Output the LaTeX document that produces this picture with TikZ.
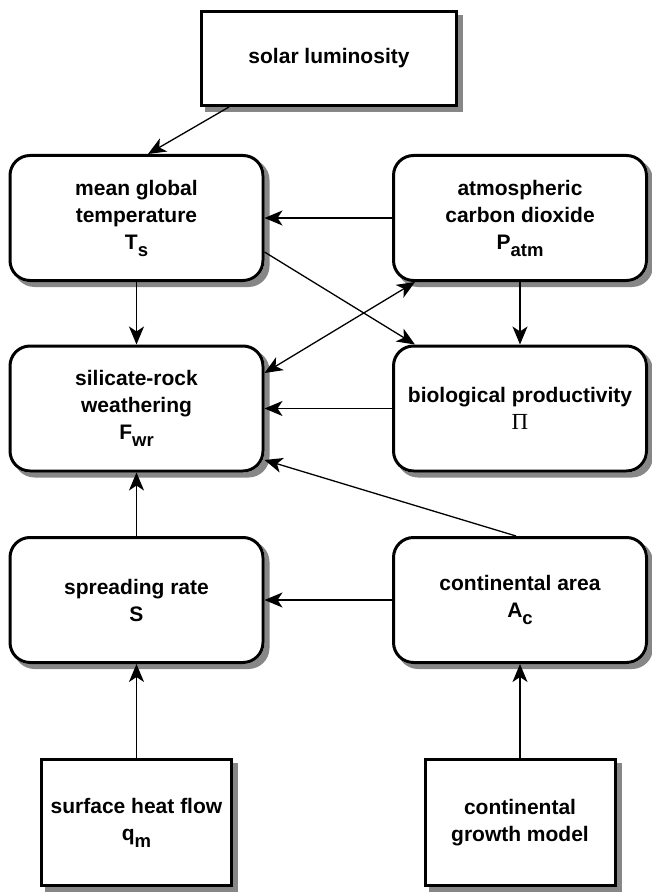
\documentclass[tikz,border=0pt]{standalone}
\usepackage{fontspec}
\setmainfont{Liberation Sans}
\newfontfamily\grfont{Liberation Serif}
\usetikzlibrary{arrows.meta,calc}
\newcommand\mysub[1]{\raisebox{-7pt}{\fontsize{18.5}{18}\selectfont #1}}
% shadow drawn outside a box: centre x, centre y, outer width, outer height, corner radius
\newcommand\myshadow[5]{%
  \begin{scope}[even odd rule, rounded corners=#5]
  \clip (-10,-10) rectangle (700,910)
     ({#1+#3/2},{#2+#4/2}) rectangle ({#1-#3/2},{#2-#4/2});
  \fill[shad] ({#1-#3/2+5},{#2-#4/2+5}) rectangle ({#1+#3/2+5},{#2+#4/2+5});
  \end{scope}}
\begin{document}
\begin{tikzpicture}[x=1pt,y=-1pt,
 box/.style={draw, line width=3pt, fill=white, align=center, inner sep=4pt,
   font=\fontsize{21}{27}\selectfont\bfseries},
 rbox/.style={box, rounded corners=20pt, minimum width=253pt, minimum height=125pt},
 sbox/.style={box},
 shad/.style={fill=black, fill opacity=0.47},
 tip/.tip={Stealth[length=18pt,width=15pt,inset=5pt]},
 arr/.style={-tip, line width=1.3pt}]
\useasboundingbox (0,0) rectangle (652,893);

\node[sbox, minimum width=255pt, minimum height=94pt] (sol) at (329,58.5) {solar luminosity};
\node[rbox] (temp) at (136.5,218) {mean global\\temperature\\T\mysub{s}};
\node[rbox] (co2) at (520,218) {atmospheric\\carbon dioxide\\P\mysub{atm}};
\node[rbox] (sil) at (136.5,408.5) {silicate-rock\\weathering\\F\mysub{wr}};
\node[rbox] (bio) at (520,408.5) {biological productivity\\{\grfont\mdseries\fontsize{23}{27}\selectfont Π}};
\node[rbox] (spr) at (136.5,600) {spreading rate\\S};
\node[rbox] (area) at (520,600) {continental area\\A\mysub{c}};
\node[sbox, minimum width=190pt, minimum height=126pt] (heat) at (136.5,822.5) {surface heat flow\\q\mysub{m}};
\node[sbox, minimum width=190pt, minimum height=126pt] (grow) at (520,822.5) {continental\\growth model};

\myshadow{329}{58.5}{258}{97}{0pt}
\foreach \cx/\cy in {136.5/218, 520/218, 136.5/408.5, 520/408.5, 136.5/600, 520/600}
  {\myshadow{\cx}{\cy}{256}{128}{21pt}}
\foreach \cx in {136.5, 520}
  {\myshadow{\cx}{822.5}{193}{129}{0pt}}

\draw[arr] ($(sol.south west)+(29,0)$) -- ($(temp.north)+(11.5,0)$);
\draw[arr] (co2.west) -- (temp.east);
\draw[arr] (temp.south) -- (sil.north);
\draw[arr] (co2.south) -- (bio.north);
\draw[arr] ($(temp.east)+(0,34)$) -- ($(bio.north west)+(23,0)$);
\draw[arr, tip-tip] ($(sil.east)+(0,-35.5)$) -- ($(co2.south west)+(23,0)$);
\draw[arr] (bio.west) -- (sil.east);
\draw[arr] ($(area.north)+(-4,0)$) -- ($(sil.east)+(0,51.5)$);
\draw[arr] (spr.north) -- (sil.south);
\draw[arr] (area.west) -- (spr.east);
\draw[arr] (heat.north) -- (spr.south);
\draw[arr] (grow.north) -- (area.south);
\end{tikzpicture}
\end{document}
